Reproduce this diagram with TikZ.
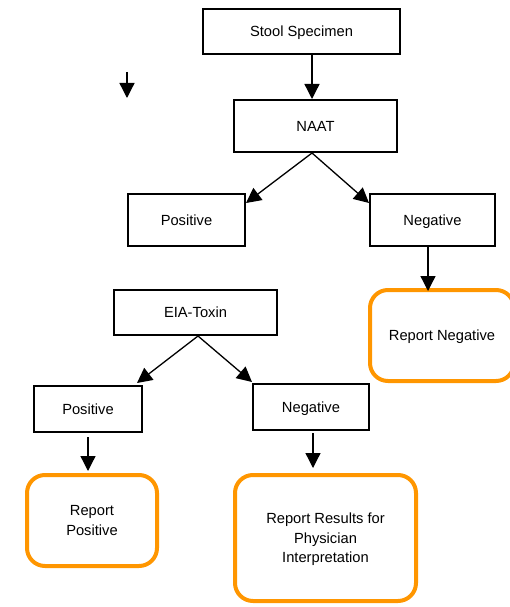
\documentclass[tikz,border=0pt]{standalone}
\usepackage{fontspec}
\setmainfont{Liberation Sans}
\usetikzlibrary{arrows.meta,calc}
\definecolor{repOrange}{RGB}{255,150,0}
\begin{document}
\begin{tikzpicture}[x=1pt,y=-1pt,
  txt/.style={font=\fontsize{14.7}{19.5}\selectfont,align=center,inner sep=0pt,text depth=0pt},
  box/.style={txt,draw,line width=2pt},
  rep/.style={txt,draw=repOrange,line width=4pt,rounded corners=18pt},
  arr/.style={line width=1.3pt,-{Triangle[length=15pt,width=15pt]}}]
\useasboundingbox (0,0) rectangle (510,607);
\clip (0,0) rectangle (510,607);
\node[box,minimum width=197pt,minimum height=45pt] (stool) at (301.5,31.5) {Stool Specimen};
\node[box,minimum width=163pt,minimum height=52pt] (naat) at (315.5,126) {NAAT};
\node[box,minimum width=117pt,minimum height=52pt] (pos1) at (186.5,220) {Positive};
\node[box,minimum width=125pt,minimum height=52pt] (neg1) at (432.5,220) {Negative};
\node[rep,minimum width=144pt,minimum height=91pt] (repneg) at (442,335.5) {Report Negative};
\node[box,minimum width=163pt,minimum height=45pt] (eia) at (195.5,312.5) {EIA-Toxin};
\node[box,minimum width=108pt,minimum height=46pt] (pos2) at (88,409) {Positive};
\node[box,minimum width=116pt,minimum height=46pt] (neg2) at (311,407) {Negative};
\node[rep,minimum width=130pt,minimum height=91pt] (reppos) at (92,520.5) {Report\\Positive};
\node[rep,minimum width=181pt,minimum height=126pt] (represults) at (325.5,538) {Report Results for\\Physician\\Interpretation};
\coordinate (la1) at (127,72);
\coordinate (la2) at (127,98);
\draw[arr] (la1) -- (la2);
\draw[arr] ($(stool.south)+(10.5,0)$) -- ($(naat.north)+(-3.5,0)$);
\draw[arr] ($(naat.south)+(-3.5,0)$) -- ($(pos1.north east)+(0,10)$);
\draw[arr] ($(naat.south)+(-3.5,0)$) -- ($(neg1.north west)+(0,10)$);
\draw[arr] ($(neg1.south)+(-4.5,0)$) -- ($(repneg.north)+(-14,3)$);
\draw[arr] ($(eia.south)+(2.5,0)$) -- ($(pos2.north east)+(-6,-2)$);
\draw[arr] ($(eia.south)+(2.5,0)$) -- ($(neg2.north west)+(0,-1)$);
\draw[arr] ($(pos2.south)+(0,4)$) -- ($(reppos.north)+(-4,-2)$);
\draw[arr] ($(neg2.south)+(2,2)$) -- ($(represults.north)+(-12.5,-5)$);
\end{tikzpicture}
\end{document}
